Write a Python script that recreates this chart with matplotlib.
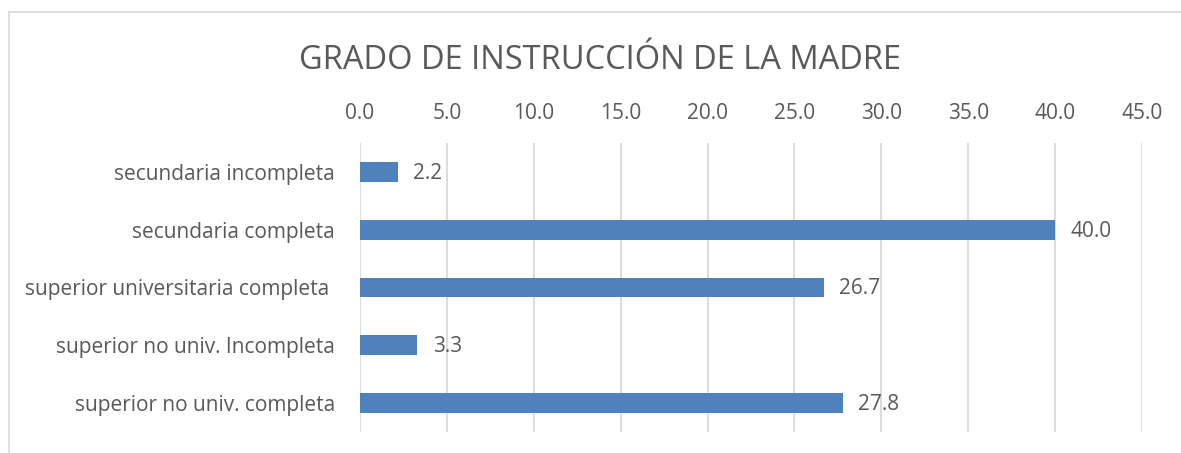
import numpy as np
import matplotlib.pyplot as plt
from matplotlib.patches import Rectangle

categorias = ['secundaria incompleta', 'secundaria completa',
              'superior universitaria completa ', 'superior no univ. Incompleta',
              'superior no univ. completa']
valores = [2.2, 40.0, 26.7, 3.3, 27.8]
ticks = [0, 5, 10, 15, 20, 25, 30, 35, 40, 45]

plt.rcParams['font.family'] = ['Open Sans', 'DejaVu Sans']
gris = '#595959'

fig = plt.figure(figsize=(11.81, 4.53), dpi=100)
ax = fig.add_axes([0.3048, 0.0464, 0.6622, 0.6379])

y = np.arange(len(categorias))
ax.barh(y, valores, height=0.345, color='#4F81BD', zorder=3)
for yi, v in zip(y, valores):
    ax.annotate('{:.1f}'.format(v), (v, yi), xytext=(11, -1), textcoords='offset points',
                va='center', ha='left', fontsize=15, color=gris)

ax.set_xlim(0, 45)
ax.set_ylim(len(categorias) - 0.5, -0.5)
ax.set_xticks(ticks)
ax.set_xticklabels(['{:.1f}'.format(t) for t in ticks])
ax.set_yticks(y)
ax.set_yticklabels(categorias)
ax.xaxis.tick_top()
ax.tick_params(axis='x', length=0, pad=14, labelsize=15, labelcolor=gris)
ax.tick_params(axis='y', length=0, pad=18, labelsize=15, labelcolor=gris)
ax.grid(axis='x', color='#D9D9D9', linewidth=1.3, zorder=0)
for s in ax.spines.values():
    s.set_visible(False)

fig.text(0.508, 0.866, 'GRADO DE INSTRUCCIÓN DE LA MADRE', ha='center', va='center',
         fontsize=23.5, color=gris)

fig.patches.append(Rectangle((9 / 1181, -0.1), 1.2, 1 - 12 / 453 + 0.1,
                             transform=fig.transFigure, fill=False,
                             edgecolor='#D9D9D9', linewidth=1.2))

fig.savefig('out.png', dpi=100)
